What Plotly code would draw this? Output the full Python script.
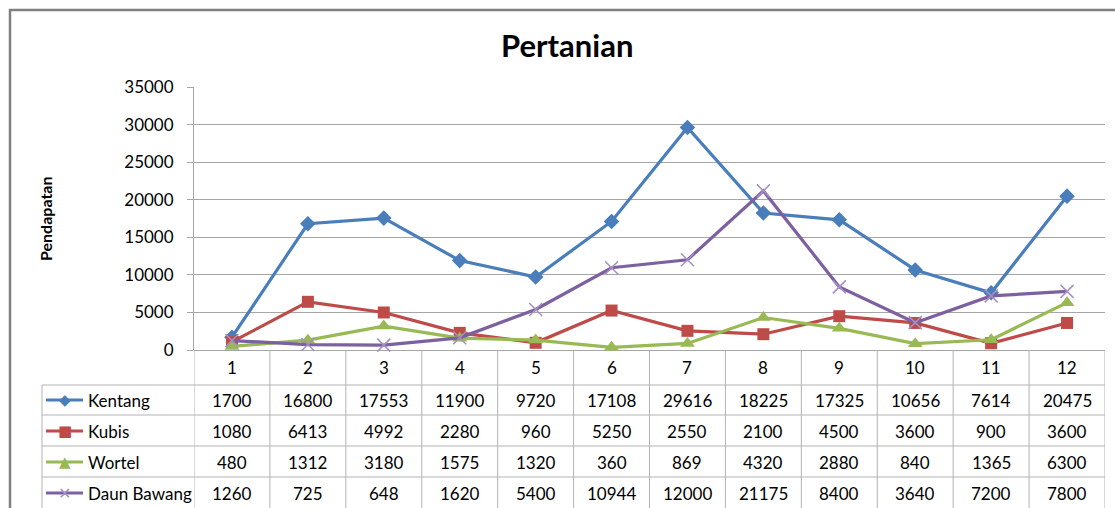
import plotly.graph_objects as go

months = [1, 2, 3, 4, 5, 6, 7, 8, 9, 10, 11, 12]
kentang = [1700, 16800, 17553, 11900, 9720, 17108, 29616, 18225, 17325, 10656, 7614, 20475]
kubis = [1080, 6413, 4992, 2280, 960, 5250, 2550, 2100, 4500, 3600, 900, 3600]
wortel = [480, 1312, 3180, 1575, 1320, 360, 869, 4320, 2880, 840, 1365, 6300]
daun_bawang = [1260, 725, 648, 1620, 5400, 10944, 12000, 21175, 8400, 3640, 7200, 7800]

series = [
    ("Kentang", kentang, "#4A7EBB", "diamond", "◆"),
    ("Kubis", kubis, "#BE4B48", "square", "■"),
    ("Wortel", wortel, "#98B954", "triangle-up", "▲"),
    ("Daun Bawang", daun_bawang, "#7D60A0", "x-thin", "✕"),
]

W, H = 1115, 508
L, R, T, B = 194, 1105, 87, 350
FONT = "Lato"
FS = 17


def px(p):
    return (p - L) / (R - L)


def py(p):
    return (B - p) / (B - T)


fig = go.Figure()
for name, vals, color, sym, _ in series:
    if sym == "x-thin":
        marker = dict(symbol=sym, size=13, line=dict(color="#A58FC4", width=1.5), color="#A58FC4")
    else:
        marker = dict(symbol=sym, size=12 if sym != "triangle-up" else 13, color=color,
                      line=dict(width=0))
    fig.add_trace(go.Scatter(x=months, y=vals, mode="lines+markers", name=name,
                             line=dict(color=color, width=3.2), marker=marker,
                             showlegend=False, cliponaxis=False))

shapes = []
annotations = []
grid = "#B3B3B3"

# outer frame
shapes.append(dict(type="rect", xref="paper", yref="paper",
                   x0=px(10), x1=px(1125), y0=py(10), y1=py(530),
                   line=dict(color="#7F7F7F", width=2.5)))

# table row lines
row_lines = [385, 415, 446, 477]
for yl in row_lines:
    shapes.append(dict(type="line", xref="paper", yref="paper",
                       x0=px(42), x1=px(R), y0=py(yl), y1=py(yl),
                       line=dict(color=grid, width=1)))
# left column edge
shapes.append(dict(type="line", xref="paper", yref="paper",
                   x0=px(42), x1=px(42), y0=py(385), y1=py(515),
                   line=dict(color=grid, width=1)))
# column boundaries
for k in range(13):
    shapes.append(dict(type="line", xref="x", yref="paper",
                       x0=k + 0.5, x1=k + 0.5, y0=0, y1=py(515),
                       line=dict(color=grid, width=1)))

# header row
for m in months:
    annotations.append(dict(x=m, y=py(367), xref="x", yref="paper", text=str(m),
                            showarrow=False, xanchor="center", yanchor="middle",
                            font=dict(size=FS, color="#000000", family=FONT)))

row_centers = [400, 431, 462, 493]
for (name, vals, color, sym, glyph), yc in zip(series, row_centers):
    for m, v in zip(months, vals):
        annotations.append(dict(x=m, y=py(yc), xref="x", yref="paper", text=str(v),
                                showarrow=False, xanchor="center", yanchor="middle",
                                font=dict(size=FS, color="#000000", family=FONT)))
    annotations.append(dict(x=px(86), y=py(yc), xref="paper", yref="paper", text=name,
                            showarrow=False, xanchor="left", yanchor="middle",
                            font=dict(size=FS, color="#000000", family=FONT)))
    shapes.append(dict(type="line", xref="paper", yref="paper",
                       x0=px(46), x1=px(83), y0=py(yc), y1=py(yc),
                       line=dict(color=color, width=3.2)))
    gcol = "#A58FC4" if sym == "x-thin" else color
    annotations.append(dict(x=px(64.5), y=py(yc), xref="paper", yref="paper", text=glyph,
                            showarrow=False, xanchor="center", yanchor="middle",
                            font=dict(size=15 if sym != "x-thin" else 16, color=gcol,
                                      family="DejaVu Sans")))

# title and axis title
annotations.append(dict(x=px(567), y=py(45), xref="paper", yref="paper",
                        text="<b>Pertanian</b>", showarrow=False,
                        xanchor="center", yanchor="middle",
                        font=dict(size=31, color="#000000", family=FONT)))
annotations.append(dict(x=px(45), y=py(219), xref="paper", yref="paper",
                        text="<b>Pendapatan</b>", showarrow=False, textangle=-90,
                        xanchor="center", yanchor="middle",
                        font=dict(size=16, color="#000000", family=FONT)))

fig.update_layout(
    width=W, height=H,
    margin=dict(l=L, r=W - R, t=T, b=H - B, pad=0, autoexpand=False),
    paper_bgcolor="white", plot_bgcolor="white",
    shapes=shapes, annotations=annotations,
    font=dict(family=FONT, color="#000000"),
    xaxis=dict(range=[0.5, 12.5], showticklabels=False, showgrid=False,
               zeroline=False, showline=False, ticks=""),
    yaxis=dict(range=[0, 35000], dtick=5000, tickformat="d", showgrid=True,
               gridcolor="#A6A6A6", gridwidth=1, zeroline=True,
               zerolinecolor="#A6A6A6", zerolinewidth=1,
               showline=True, linecolor="#A6A6A6", linewidth=1,
               ticks="outside", ticklen=6, tickcolor="#A6A6A6",
               tickfont=dict(size=FS, color="#000000", family=FONT),
               ticklabelstandoff=10),
)

fig.write_html("out.html", config={"displayModeBar": False},
               post_script="document.body.style.margin='0';document.body.style.overflow='hidden';")
